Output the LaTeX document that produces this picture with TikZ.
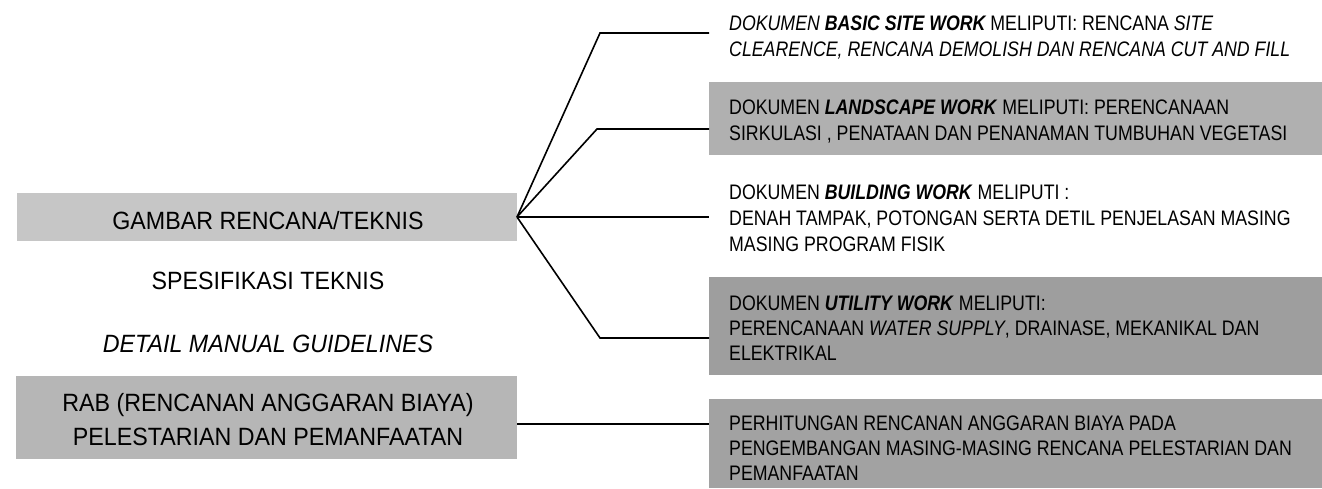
\documentclass[tikz,border=0pt]{standalone}
\usepackage{fontspec}
\setmainfont{Liberation Sans}[FakeStretch=0.845]
\newfontfamily\leftfont{Liberation Sans}[FakeStretch=0.93]
\definecolor{gA}{HTML}{C6C6C6}
\definecolor{gR}{HTML}{B6B6B6}
\definecolor{gB}{HTML}{B0B0B0}
\definecolor{gD}{HTML}{9E9E9E}
\definecolor{gE}{HTML}{A2A2A2}
\begin{document}
\begin{tikzpicture}[x=1pt,y=-1pt,
  lbox/.style={anchor=north west,inner sep=0pt,outer sep=0pt,draw=none},
  rbox/.style={anchor=north west,inner sep=0pt,outer sep=0pt,draw=none,minimum width=613pt},
  ltext/.style={anchor=base,inner sep=0pt,font=\leftfont\fontsize{25}{33}\selectfont},
  rtext/.style={anchor=base west,inner sep=0pt,font=\fontsize{21}{26}\selectfont},
  conn/.style={draw=black,line width=1.6pt,line join=miter}]
\useasboundingbox (0,0) rectangle (1322,488);
% left boxes
\node[lbox,fill=gA,minimum width=500pt,minimum height=48pt] (g) at (17,193) {};
\node[ltext] (gt) at (268,229) {GAMBAR RENCANA/TEKNIS};
\node[ltext] (spec) at (268,289) {SPESIFIKASI TEKNIS};
\node[ltext] (det) at (268,352) {\itshape DETAIL MANUAL GUIDELINES};
\node[lbox,fill=gR,minimum width=501pt,minimum height=83pt] (r) at (16,376) {};
\node[ltext] (r1) at (268,411) {RAB (RENCANAN ANGGARAN BIAYA)};
\node[ltext] (r2) at (268,445) {PELESTARIAN DAN PEMANFAATAN};
% right boxes
\node[rbox,minimum height=60pt] (bA) at (709,5) {};
\node[rbox,fill=gB,minimum height=73pt] (bB) at (709,82) {};
\node[rbox,minimum height=80pt] (bC) at (709,175) {};
\node[rbox,fill=gD,minimum height=98pt] (bD) at (709,277) {};
\node[rbox,fill=gE,minimum height=89pt] (bE) at (709,399) {};
% right texts
\node[rtext] (a1) at (729,30) {\itshape DOKUMEN \textbf{BASIC SITE WORK} \upshape MELIPUTI: RENCANA \itshape SITE};
\node[rtext] (a2) at (729,56) {\itshape CLEARENCE, RENCANA DEMOLISH DAN RENCANA CUT AND FILL};
\node[rtext] (b1) at (729,114.5) {DOKUMEN \textbf{\itshape LANDSCAPE WORK} MELIPUTI: PERENCANAAN};
\node[rtext] (b2) at (729,140.5) {SIRKULASI , PENATAAN DAN PENANAMAN TUMBUHAN VEGETASI};
\node[rtext] (c1) at (729,199.5) {DOKUMEN \textbf{\itshape BUILDING WORK} MELIPUTI :};
\node[rtext] (c2) at (729,225.5) {DENAH TAMPAK, POTONGAN SERTA DETIL PENJELASAN MASING};
\node[rtext] (c3) at (729,251.5) {MASING PROGRAM FISIK};
\node[rtext] (d1) at (729,310.5) {DOKUMEN \textbf{\itshape UTILITY WORK} MELIPUTI:};
\node[rtext] (d2) at (729,335.5) {PERENCANAAN \textit{WATER SUPPLY}, DRAINASE, MEKANIKAL DAN};
\node[rtext] (d3) at (729,360.5) {ELEKTRIKAL};
\node[rtext] (e1) at (729,430.5) {PERHITUNGAN RENCANAN ANGGARAN BIAYA PADA};
\node[rtext] (e2) at (729,455.5) {PENGEMBANGAN MASING-MASING RENCANA PELESTARIAN DAN};
\node[rtext] (e3) at (729,480.5) {PEMANFAATAN};
% connectors
\coordinate (cA) at (600,33);
\coordinate (cB) at (597,129);
\coordinate (cD) at (600,338);
\draw[conn] (g.east) -- (cA) -- (cA -| bA.west);
\draw[conn] (g.east) -- (cB) -- (cB -| bB.west);
\draw[conn] (g.east) -- (g.east -| bC.west);
\draw[conn] (g.east) -- (cD) -- (cD -| bD.west);
\draw[conn] ([yshift=-6.5pt]r.east) -- ([yshift=-6.5pt]r.east -| bE.west);
\end{tikzpicture}
\end{document}
